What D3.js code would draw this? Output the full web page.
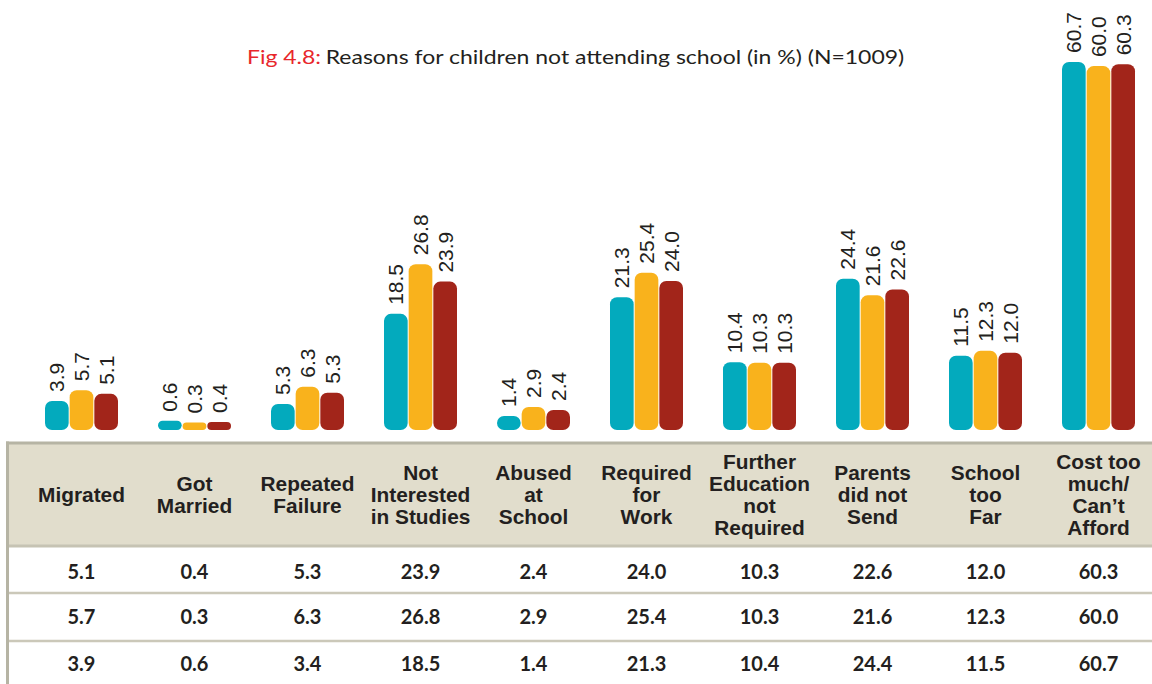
<!DOCTYPE html>
<html>
<head>
<meta charset="utf-8">
<script src="https://cdn.jsdelivr.net/npm/d3@7"></script>
<style>
  body { margin: 0; background: #fff; }
  svg { display: block; }
</style>
</head>
<body>
<div id="chart"></div>
<script>
// categories (header labels split into lines)
var categories = ["Migrated", "Got Married", "Repeated Failure", "Not Interested in Studies",
  "Abused at School", "Required for Work", "Further Education not Required",
  "Parents did not Send", "School too Far", "Cost too much/ Can't Afford"];
var headerLines = [["Migrated"], ["Got", "Married"], ["Repeated", "Failure"],
  ["Not", "Interested", "in Studies"], ["Abused", "at", "School"], ["Required", "for", "Work"],
  ["Further", "Education", "not", "Required"], ["Parents", "did not", "Send"],
  ["School", "too", "Far"], ["Cost too", "much/", "Can\u2019t", "Afford"]];

// series values, bars left to right
var tealValues   = [3.9, 0.6, 3.4, 18.5, 1.4, 21.3, 10.4, 24.4, 11.5, 60.7];
var yellowValues = [5.7, 0.3, 6.3, 26.8, 2.9, 25.4, 10.3, 21.6, 12.3, 60.0];
var redValues    = [5.1, 0.4, 5.3, 23.9, 2.4, 24.0, 10.3, 22.6, 12.0, 60.3];
// the printed bar label differs from the table for one bar
var tealLabelOverride = {2: "5.3"};

// table rows, top to bottom
var tableRows = [redValues, yellowValues, tealValues];

var seriesKeys = ["teal", "yellow", "red"];
var colors = {teal: "#03aabd", yellow: "#f9b21c", red: "#a2251a"};
var seriesData = {teal: tealValues, yellow: yellowValues, red: redValues};

var width = 1152, height = 684;

var svg = d3.select("#chart").append("svg")
  .attr("width", width)
  .attr("height", height);

// title
var title = svg.append("text")
  .attr("x", 247)
  .attr("y", 64)
  .style("font-family", "Lato, 'Open Sans', sans-serif")
  .style("font-size", "20px");
title.append("tspan").attr("fill", "#e8262b").text("Fig 4.8:");
title.append("tspan").attr("fill", "#231f20").attr("dx", 4)
  .text("Reasons for children not attending school (in %) (N=1009)");
var tw = title.node().getComputedTextLength();
title.attr("transform", "translate(247,0) scale(" + (653 / tw) + ",1) translate(-247,0)");

// scales
var x0 = d3.scaleBand().domain(categories).range([25, 1155]);
var groupW = 73;
var x1 = d3.scaleBand().domain(seriesKeys).range([0, groupW]).paddingInner(0.04);
var y = d3.scaleLinear().domain([0, 70]).range([424.3, 6.4]);
var barBottom = 430;

var groups = svg.selectAll("g.grp")
  .data(categories)
  .enter().append("g")
  .attr("class", "grp")
  .attr("transform", function(d) {
    return "translate(" + (x0(d) + (x0.bandwidth() - groupW) / 2) + ",0)";
  });

groups.each(function(cat, ci) {
  var g = d3.select(this);
  seriesKeys.forEach(function(k) {
    var v = seriesData[k][ci];
    var top = y(v);
    var h = barBottom - top;
    g.append("rect")
      .attr("x", x1(k))
      .attr("y", top)
      .attr("width", x1.bandwidth())
      .attr("height", h)
      .attr("rx", Math.min(7, h / 2))
      .attr("fill", colors[k]);
    var label = v.toFixed(1);
    if (k == "teal" && tealLabelOverride[ci] != undefined) label = tealLabelOverride[ci];
    var cx = x1(k) + x1.bandwidth() / 2;
    g.append("text")
      .attr("transform", "translate(" + cx + "," + (top - 9) + ") rotate(-90)")
      .attr("dy", "0.36em")
      .attr("fill", "#231f20")
      .style("font-family", "'Liberation Sans Narrow', 'Liberation Sans', Arial, sans-serif")
      .style("font-stretch", "condensed")
      .style("font-size", "21px")
      .text(label);
  });
});

// table
var tableTop = 443, headerBottom = 546;
var rowLines = [593, 641];
var rowCenters = [572, 617, 664];

svg.append("rect")
  .attr("x", 8).attr("y", tableTop)
  .attr("width", width - 8).attr("height", headerBottom - tableTop)
  .attr("fill", "#e1ddcc");

svg.append("line")
  .attr("x1", 6).attr("x2", width).attr("y1", tableTop).attr("y2", tableTop)
  .attr("stroke", "#b6b4a4").attr("stroke-width", 3);
svg.append("line")
  .attr("x1", 6).attr("x2", width).attr("y1", headerBottom).attr("y2", headerBottom)
  .attr("stroke", "#c6c3b3").attr("stroke-width", 3);
rowLines.forEach(function(ly) {
  svg.append("line")
    .attr("x1", 8).attr("x2", width).attr("y1", ly).attr("y2", ly)
    .attr("stroke", "#cbc8b9").attr("stroke-width", 2.5);
});
svg.append("line")
  .attr("x1", 7.5).attr("x2", 7.5).attr("y1", tableTop - 1.5).attr("y2", height)
  .attr("stroke", "#b6b4a4").attr("stroke-width", 3);

var lineH = 22, headerMid = 495;
categories.forEach(function(cat, ci) {
  var cx = x0(cat) + x0.bandwidth() / 2;
  var lines = headerLines[ci];
  lines.forEach(function(ln, li) {
    svg.append("text")
      .attr("transform", "translate(" + cx + "," +
        (headerMid + (li - (lines.length - 1) / 2) * lineH) + ") scale(1.07,1)")
      .attr("dy", "0.36em")
      .attr("text-anchor", "middle")
      .attr("fill", "#231f20")
      .style("font-family", "'Liberation Sans', Arial, sans-serif")
      .style("font-weight", "700")
      .style("font-size", "19.5px")
      .text(ln);
  });
  tableRows.forEach(function(row, ri) {
    svg.append("text")
      .attr("x", cx)
      .attr("y", rowCenters[ri])
      .attr("dy", "0.35em")
      .attr("text-anchor", "middle")
      .attr("fill", "#231f20")
      .style("font-family", "Lato, sans-serif")
      .style("font-weight", "700")
      .style("font-size", "20px")
      .text(row[ci].toFixed(1));
  });
});
</script>
</body>
</html>
